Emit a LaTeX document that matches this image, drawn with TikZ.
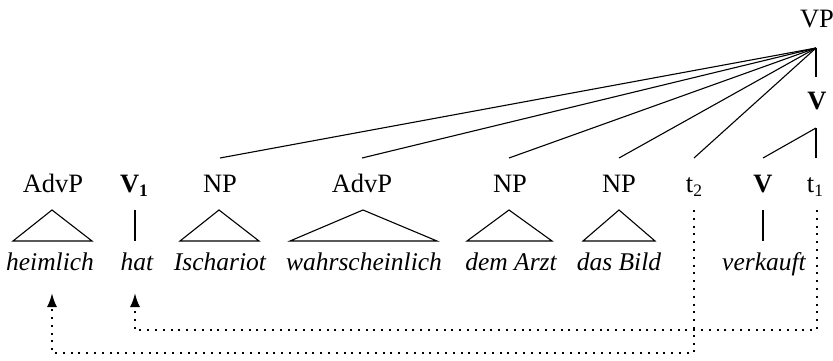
\documentclass[tikz,border=0pt]{standalone}
\usepackage{fontspec}
\setmainfont{Liberation Serif}
\usetikzlibrary{arrows.meta}
\newcommand{\mysub}[1]{\raisebox{-0.35ex}{\fontsize{17.5}{17.5}\selectfont #1}}
\begin{document}
\begin{tikzpicture}[x=1pt,y=-1pt,
  lab/.style={anchor=base,inner sep=0pt,font=\fontsize{26.5}{30}\selectfont},
  word/.style={anchor=base,inner sep=0pt,font=\fontsize{25.5}{30}\selectfont\itshape},
  branch/.style={line width=1.1pt},
  trace/.style={line width=2pt,dash pattern=on 2pt off 5.8pt,-{Latex[length=14pt,width=10pt,sep=0pt]}}]
\useasboundingbox (0,0) rectangle (833,361);
% labels
\node[lab] (vp) at (817,28) {VP};
\node[lab] (vbar) at (817,110) {\textbf{V}};
\node[lab] (advp1) at (53,192) {AdvP};
\node[lab] (v1) at (134,192) {\textbf{V\mysub{1}}};
\node[lab] (np1) at (220,192) {NP};
\node[lab] (advp2) at (362,192) {AdvP};
\node[lab] (np2) at (510,192) {NP};
\node[lab] (np3) at (619,192) {NP};
\node[lab] (t2) at (694,192) {t\mysub{2}};
\node[lab] (v0) at (763,192) {\textbf{V}};
\node[lab] (t1) at (815,192) {t\mysub{1}};
% words
\node[word] (w1) at (50,270) {heimlich};
\node[word] (w2) at (137,270) {hat};
\node[word] (w3) at (220,270) {Ischariot};
\node[word] (w4) at (364,270) {wahrscheinlich};
\node[word] (w5) at (511,270) {dem Arzt};
\node[word] (w6) at (619,270) {das Bild};
\node[word] (w7) at (764,270) {verkauft};
% branch points
\coordinate (vpb) at (816,48);
\coordinate (vbt) at (816,77);
\coordinate (vbb) at (816,128);
\coordinate (np1t) at (220,158);
\coordinate (advp2t) at (362,158);
\coordinate (np2t) at (509,158);
\coordinate (np3t) at (619,158);
\coordinate (t2t) at (694,158);
\coordinate (v0t) at (763,158);
\coordinate (t1t) at (816,158);
\draw[branch] (vpb) -- (vbt);
\draw[branch] (vpb) -- (np1t);
\draw[branch] (vpb) -- (advp2t);
\draw[branch] (vpb) -- (np2t);
\draw[branch] (vpb) -- (np3t);
\draw[branch] (vpb) -- (t2t);
\draw[branch] (vbb) -- (v0t);
\draw[branch] (vbb) -- (t1t);
% triangles and unary lines
\draw[branch] (52,210) -- (13,241) -- (92,241) -- cycle;
\draw[branch] (219,210) -- (180,241) -- (259,241) -- cycle;
\draw[branch] (363,210) -- (290,241) -- (437,241) -- cycle;
\draw[branch] (509,210) -- (467,241) -- (552,241) -- cycle;
\draw[branch] (619,210) -- (583,241) -- (655,241) -- cycle;
\draw[branch] (135,210) -- (135,241);
\draw[branch] (763,210) -- (763,241);
% traces
\coordinate (t1s) at (817,210);
\coordinate (t2s) at (694,210);
\coordinate (c1) at (817,330);
\coordinate (c2) at (694,353);
\coordinate (a1) at (135,293);
\coordinate (a2) at (52,293);
\draw[trace] (t1s) -- (c1) -| (a1);
\draw[trace] (t2s) -- (c2) -| (a2);
\end{tikzpicture}
\end{document}
